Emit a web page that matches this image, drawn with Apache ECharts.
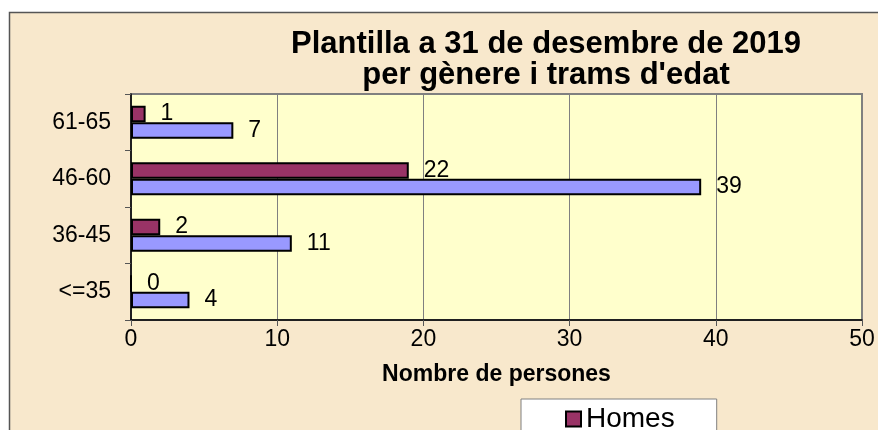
<!DOCTYPE html>
<html>
<head>
<meta charset="utf-8">
<script src="https://cdn.jsdelivr.net/npm/echarts@6/dist/echarts.min.js"></script>
<style>
	html, body { margin: 0; padding: 0; background: #fff; }
	#main { width: 878px; height: 430px; }
</style>
</head>
<body>
<div id="main"></div>
<script>
// dades
var trams = ['<=35', '36-45', '46-60', '61-65'];
var homes = [0, 2, 19, 1];
var homesEtiq = ['0', '2', '22', '1'];	// etiquetes tal com surten al gràfic
var dones = [4, 11, 39, 7];
var xTicks = [0, 10, 20, 30, 40, 50];

var font = '"Liberation Sans", Arial, sans-serif';

window.onload = function(){
	var myChart = echarts.init(document.getElementById('main'));

	var option = {
		backgroundColor: '#ffffff',
		animation: false,
		textStyle: { fontFamily: font },
		graphic: [{
			type: 'rect',
			z: -10,
			shape: { x: 9.5, y: 12.5, width: 900, height: 450 },
			style: { fill: '#f8e8cc', stroke: '#555555', lineWidth: 1.5 }
		}],
		title: {
			text: 'Plantilla a 31 de desembre de 2019\nper gènere i trams d\'edat',
			left: 541,
			top: 24,
			textAlign: 'center',
			textStyle: {
				fontFamily: font,
				fontSize: 31,
				fontWeight: 'bold',
				lineHeight: 31,
				color: '#000'
			}
		},
		legend: {
			orient: 'vertical',
			left: 521,
			top: 399,
			height: 120,
			padding: [6, 42, 6, 44],
			itemWidth: 15,
			itemHeight: 15,
			backgroundColor: '#ffffff',
			borderColor: '#808080',
			borderWidth: 1,
			borderRadius: 0,
			data: [{name: 'Homes', icon: 'rect'}, {name: 'Dones', icon: 'rect'}],
			textStyle: { fontFamily: font, fontSize: 28, color: '#000' }
		},
		grid: {
			left: 131,
			right: 16,
			top: 94,
			bottom: 110,
			show: true,
			backgroundColor: '#ffffcc',
			borderColor: '#808080',
			borderWidth: 2
		},
		xAxis: {
			type: 'value',
			min: xTicks[0],
			max: xTicks[xTicks.length - 1],
			interval: 10,
			name: 'Nombre de persones',
			nameLocation: 'middle',
			nameGap: 43,
			nameTextStyle: { fontFamily: font, fontSize: 23, fontWeight: 'bold', color: '#000' },
			axisLine: { show: true, lineStyle: { color: '#000', width: 1.5 } },
			axisTick: { show: true, length: 6, lineStyle: { color: '#555' } },
			axisLabel: { fontSize: 23, color: '#000', margin: 8 },
			splitLine: { show: true, lineStyle: { color: '#808080', width: 1 } }
		},
		yAxis: {
			type: 'category',
			data: trams,
			axisLine: { show: true, lineStyle: { color: '#000', width: 1.5 } },
			axisTick: { show: true, length: 6, lineStyle: { color: '#555' } },
			axisLabel: { fontSize: 23, color: '#000', margin: 20 },
			splitLine: { show: false }
		},
		series: [
			{
				name: 'Homes',
				type: 'bar',
				data: homes,
				barWidth: '29%',
				barGap: '0%',
				itemStyle: { color: '#993366', borderColor: '#000', borderWidth: 2 },
				label: {
					show: true,
					position: 'right',
					distance: 15,
					fontSize: 23,
					color: '#000',
					formatter: function(p){ return homesEtiq[p.dataIndex]; }
				}
			},
			{
				name: 'Dones',
				type: 'bar',
				data: dones,
				barWidth: '29%',
				barGap: '0%',
				itemStyle: { color: '#9999ff', borderColor: '#000', borderWidth: 2 },
				label: {
					show: true,
					position: 'right',
					distance: 15,
					fontSize: 23,
					color: '#000'
				}
			}
		]
	};
	myChart.setOption(option);
};
</script>
</body>
</html>
